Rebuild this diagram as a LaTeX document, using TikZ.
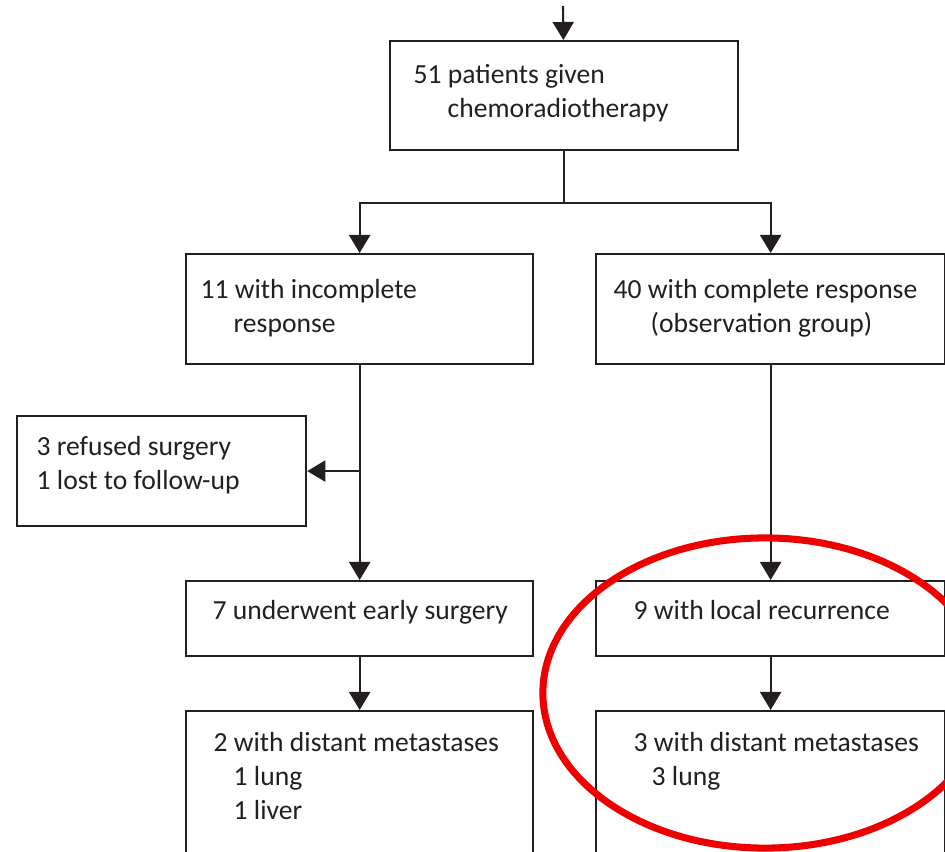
\documentclass[tikz,border=0pt]{standalone}
\usepackage{fontspec}
\setmainfont{Carlito}
\usetikzlibrary{positioning, calc, arrows.meta}
\definecolor{ink}{HTML}{231F20}
\definecolor{ringred}{HTML}{EE0000}
\tikzstyle{Box} = [rectangle, draw=ink, line width=0.6pt, inner sep=0pt, anchor=north west]
\tikzstyle{Txt} = [anchor=north west, inner sep=0pt, align=left, text=ink,
font=\fontsize{7.85}{9.67}\selectfont]
\tikzstyle{Arrow} = [draw=ink, line width=0.6pt,
-{Triangle[length=1.8mm, width=2.1mm]}]
\tikzstyle{Ring} = [draw=ringred, line width=2pt]

\begin{document}
\begin{tikzpicture}[x=0.01cm, y=-0.01cm]
    \useasboundingbox (0,0) rectangle (945,851);
    \clip (0,0) rectangle (945,851);
    \coordinate (0) at (563,6);
    \node [Box, minimum width=3.48cm, minimum height=1.09cm] (1) at (389,40) {};
    \node [Box, minimum width=3.47cm, minimum height=1.10cm] (2) at (185,253) {};
    \node [Box, minimum width=3.49cm, minimum height=1.10cm] (3) at (595,253) {};
    \node [Box, minimum width=2.89cm, minimum height=1.10cm] (4) at (16,415) {};
    \node [Box, minimum width=3.47cm, minimum height=0.75cm] (5) at (185,580) {};
    \node [Box, minimum width=3.49cm, minimum height=0.75cm] (6) at (595,580) {};
    \node [Box, minimum width=3.47cm, minimum height=2.00cm] (7) at (185,710) {};
    \node [Box, minimum width=3.49cm, minimum height=2.00cm] (8) at (595,710) {};
    \node [Txt] (t1) at (413,64) {51 patients given\\\hspace*{0.34cm}chemoradiotherapy};
    \node [Txt] (t2) at (200,279) {11 with incomplete\\\hspace*{0.33cm}response};
    \node [Txt] (t3) at (613,279) {40 with complete response\\\hspace*{0.37cm}(observation group)};
    \node [Txt] (t4) at (36,436) {3 refused surgery\\1 lost to follow-up};
    \node [Txt] (t5) at (212,600) {7 underwent early surgery};
    \node [Txt] (t6) at (633,600) {9 with local recurrence};
    \node [Txt] (t7) at (213,732) {2 with distant metastases\\\hspace*{0.2cm}1 lung\\\hspace*{0.2cm}1 liver};
    \node [Txt] (t8) at (633,732) {3 with distant metastases\\\hspace*{0.18cm}3 lung};
    \draw [Arrow] (0) -- (1);
    \draw [Arrow] (1.south) -- ++(0,52) -| (2.north);
    \draw [Arrow] (1.south) -- ++(0,52) -| (3.north);
    \draw [Arrow] (2) -- (5);
    \draw [Arrow] (2.south |- 4.east) -- (4.east);
    \draw [Arrow] (3) -- (6);
    \draw [Arrow] (5) -- (7);
    \draw [Arrow] (6) -- (8);
    \draw [Ring] (765,693) ellipse [x radius=2.22cm, y radius=1.55cm];
\end{tikzpicture}
\end{document}
